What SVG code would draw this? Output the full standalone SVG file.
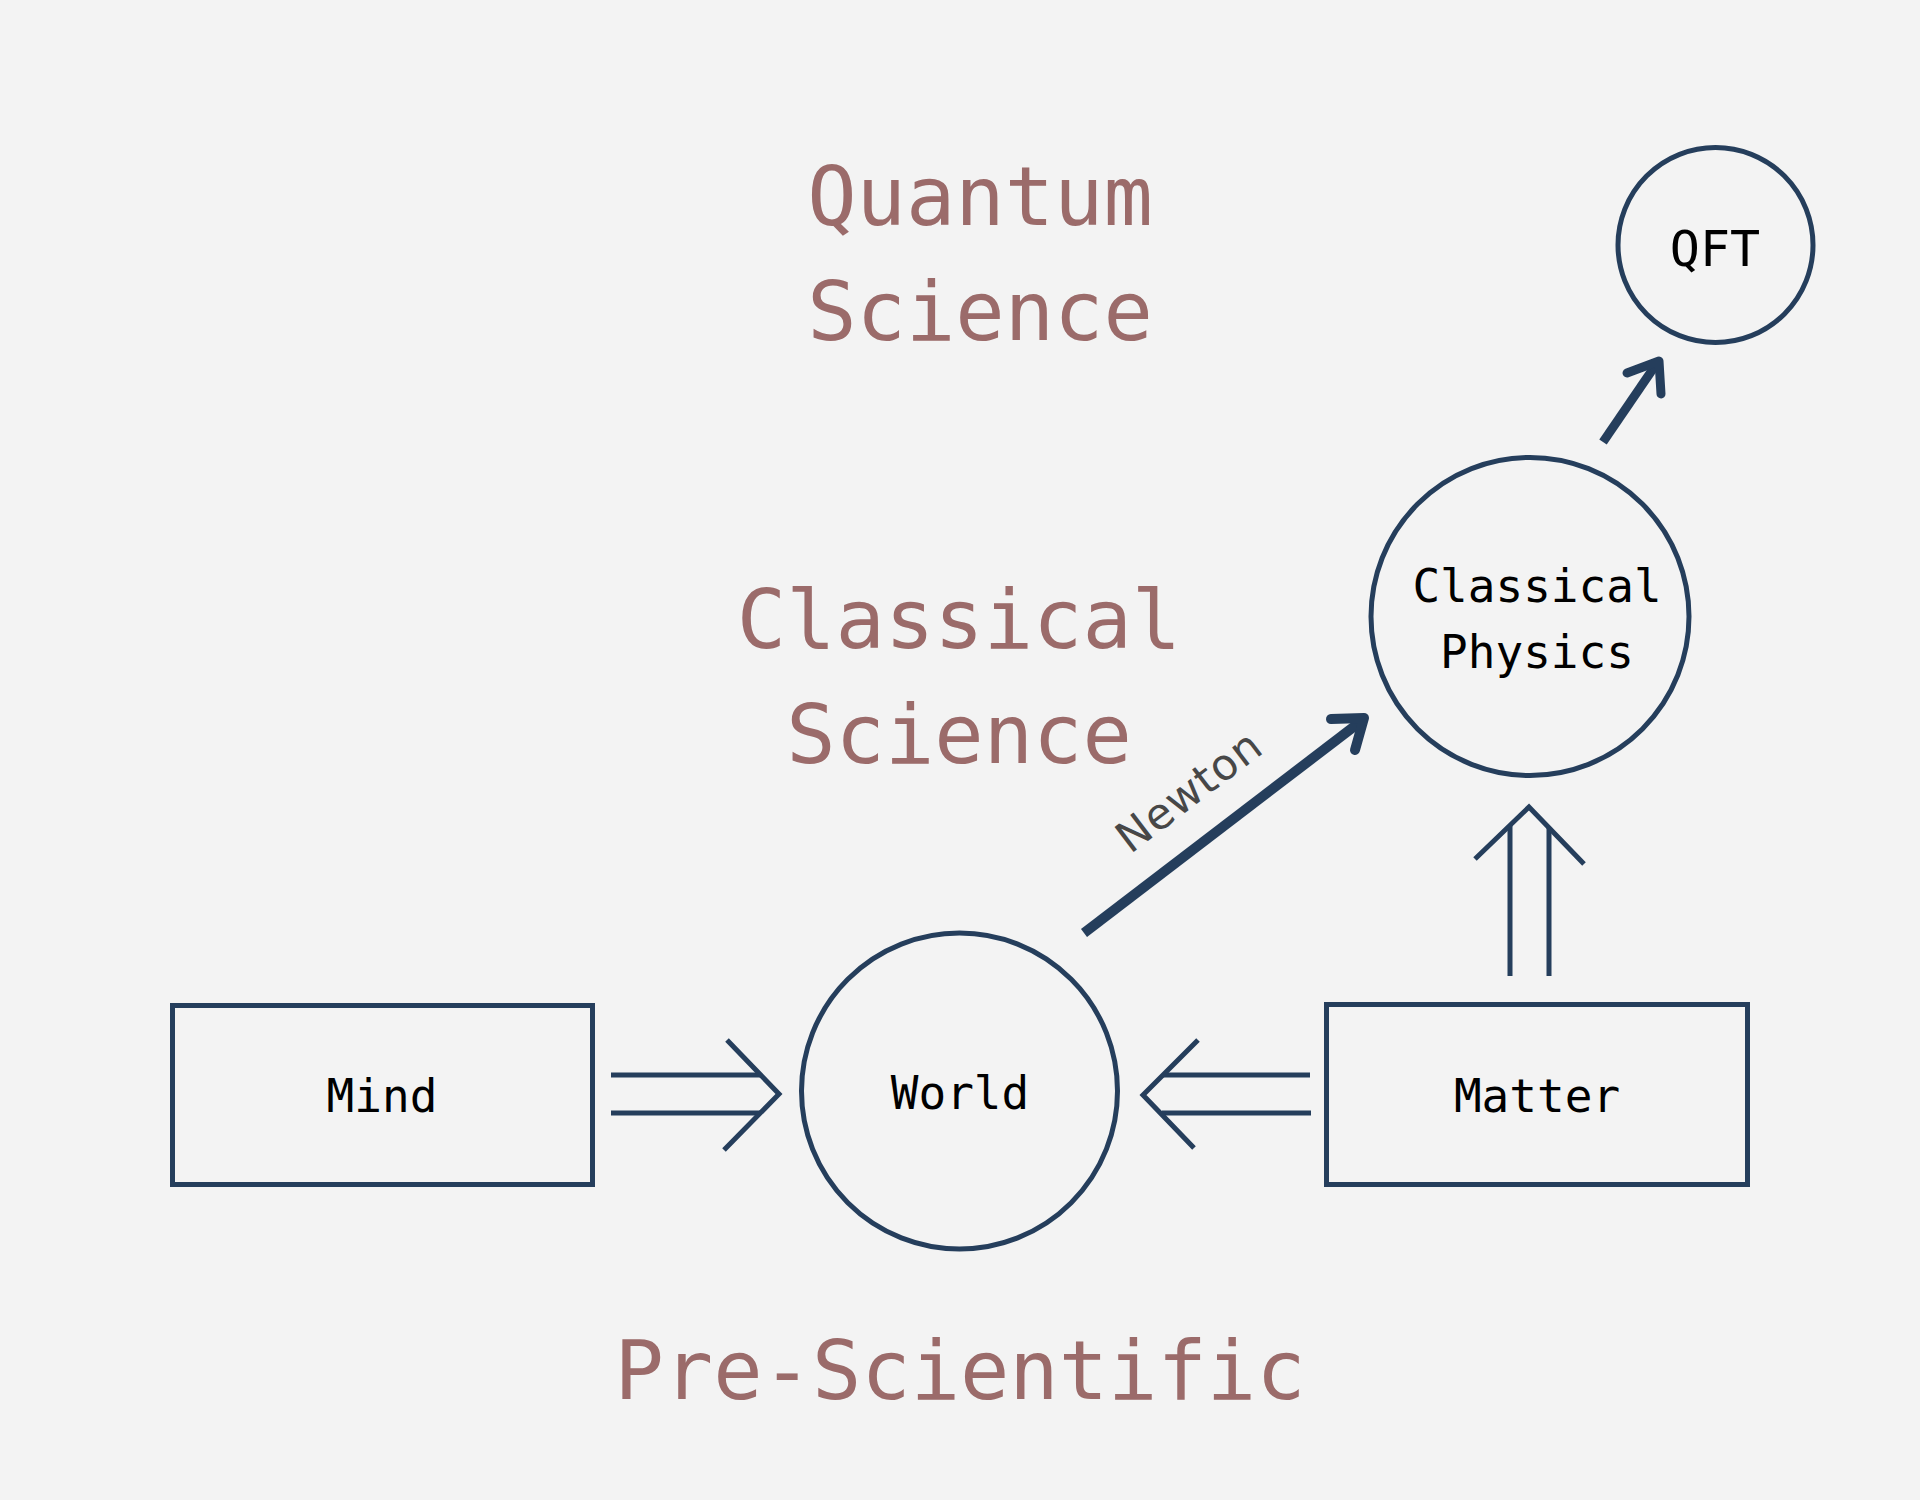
<svg xmlns="http://www.w3.org/2000/svg" width="1920" height="1500" viewBox="0 0 1920 1500">
<style>
.bg{fill:#f3f3f3}
.node{fill:none;stroke:#253e5c;stroke-width:5}
.lbl{font-family:"DejaVu Sans Mono","Liberation Mono",monospace;fill:#000;text-anchor:middle}
.sec{font-family:"DejaVu Sans Mono","Liberation Mono",monospace;fill:#9b6b6a;text-anchor:middle;font-size:82px}
.dbl{fill:none;stroke:#253e5c;stroke-width:5;stroke-linecap:butt;stroke-linejoin:miter}
.thick{fill:none;stroke:#253e5c;stroke-linecap:butt}
.head{fill:none;stroke:#253e5c;stroke-linecap:round;stroke-linejoin:round}
.edge{font-family:"DejaVu Sans",sans-serif;fill:#474747;font-size:43px;text-anchor:middle;letter-spacing:1px}
</style>
<rect class="bg" x="0" y="0" width="1920" height="1500"/>

<g id="section-labels">
<text class="sec" x="980" y="225">Quantum</text>
<text class="sec" x="980" y="340">Science</text>
<text class="sec" x="959" y="648">Classical</text>
<text class="sec" x="959" y="763">Science</text>
<text class="sec" x="960" y="1399">Pre-Scientific</text>
</g>

<g id="connectors">
<g id="mind-world">
<path class="dbl" d="M611 1075H761M611 1113H760"/>
<path class="dbl" d="M727 1040L779 1094L724 1150"/>
</g>
<g id="matter-world">
<path class="dbl" d="M1310 1075H1163M1311 1113H1162"/>
<path class="dbl" d="M1198 1040L1143 1095L1194 1148"/>
</g>
<g id="matter-classical">
<path class="dbl" d="M1510 976V825M1549 976V828"/>
<path class="dbl" d="M1475 859L1529 807L1584 864"/>
</g>
<g id="world-classical">
<path class="thick" stroke-width="10" d="M1084 933L1360 722"/>
<path class="head" stroke-width="10" d="M1331 719L1364 718L1355 750"/>
<text class="edge" transform="translate(1198 803) rotate(-37.3)">Newton</text>
</g>
<g id="classical-qft">
<path class="thick" stroke-width="9" d="M1603 442L1657 363"/>
<path class="head" stroke-width="9" d="M1627 373L1659 361L1661 394"/>
</g>
</g>

<g id="node-qft">
<circle class="node" cx="1715.5" cy="245" r="97.5"/>
<text class="lbl" x="1715" y="266" font-size="50">QFT</text>
</g>
<g id="node-classical-physics">
<circle class="node" cx="1530" cy="616.5" r="159"/>
<text class="lbl" x="1537" y="602" font-size="46">Classical</text>
<text class="lbl" x="1537" y="668" font-size="46">Physics</text>
</g>
<g id="node-world">
<circle class="node" cx="959.5" cy="1091" r="158"/>
<text class="lbl" x="960" y="1109" font-size="46">World</text>
</g>
<g id="node-mind">
<rect class="node" x="172.5" y="1005.5" width="420" height="179"/>
<text class="lbl" x="382" y="1112" font-size="46">Mind</text>
</g>
<g id="node-matter">
<rect class="node" x="1326.5" y="1004.5" width="421" height="180"/>
<text class="lbl" x="1537" y="1112" font-size="46">Matter</text>
</g>
</svg>
